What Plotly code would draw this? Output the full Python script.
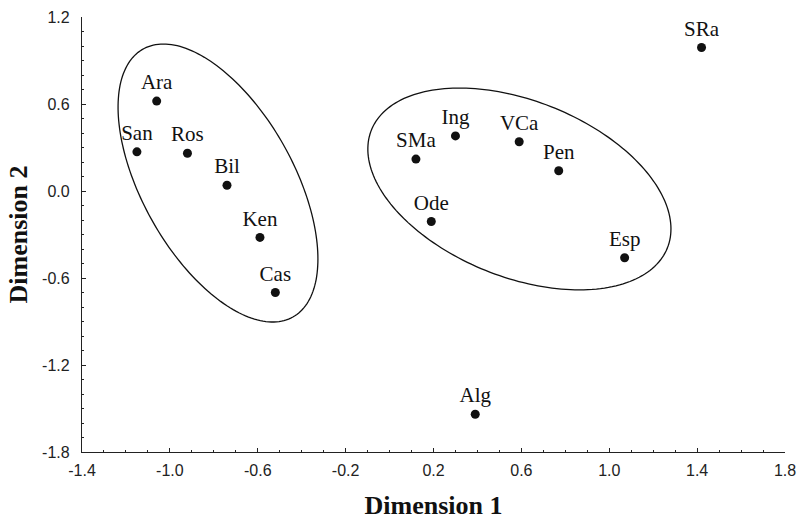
import numpy as np
import plotly.graph_objects as go

# Data
labels = ["Ara", "San", "Ros", "Bil", "Ken", "Cas",
          "SMa", "Ing", "VCa", "Pen", "Ode", "Esp", "SRa", "Alg"]
dim1 = [-1.06, -1.15, -0.92, -0.74, -0.59, -0.52,
        0.12, 0.30, 0.59, 0.77, 0.19, 1.07, 1.42, 0.39]
dim2 = [0.62, 0.27, 0.26, 0.04, -0.32, -0.70,
        0.22, 0.38, 0.34, 0.14, -0.21, -0.46, 0.99, -1.54]

x_ticks = [-1.4, -1.0, -0.6, -0.2, 0.2, 0.6, 1.0, 1.4, 1.8]
y_ticks = [-1.8, -1.2, -0.6, 0.0, 0.6, 1.2]
x_tick_text = ["-1.4", "-1.0", "-0.6", "-0.2", "0.2", "0.6", "1.0", "1.4", "1.8"]
y_tick_text = ["-1.8", "-1.2", "-0.6", "0.0", "0.6", "1.2"]

# Group ellipses: center (data units), semi-axes (screen px), tilt (deg, screen)
ellipse_centers = [(-0.781, 0.055), (0.591, 0.014)]
ellipse_axes = [(153.5, 75.8), (159.3, 88.2)]
ellipse_tilt = [60.8, 21.7]

W, H = 799, 521
ML, MR, MT, MB = 82, 14, 17, 69
xr = [-1.4, 1.8]
yr = [-1.8, 1.2]
sx = (W - ML - MR) / (xr[1] - xr[0])
sy = (H - MT - MB) / (yr[1] - yr[0])

shapes = []
for (cx, cy), (a, b), th in zip(ellipse_centers, ellipse_axes, ellipse_tilt):
    t = np.linspace(0, 2 * np.pi, 200)
    r = np.deg2rad(th)
    dxp = a * np.cos(t) * np.cos(r) - b * np.sin(t) * np.sin(r)
    dyp = a * np.cos(t) * np.sin(r) + b * np.sin(t) * np.cos(r)
    xs = cx + dxp / sx
    ys = cy - dyp / sy
    path = "M " + " L ".join(f"{x:.4f},{y:.4f}" for x, y in zip(xs, ys)) + " Z"
    shapes.append(dict(type="path", path=path, xref="x", yref="y",
                       line=dict(color="#111", width=1.3)))

fig = go.Figure()
fig.add_trace(go.Scatter(
    x=dim1, y=dim2, mode="markers+text", text=labels,
    textposition="top center",
    textfont=dict(family="Liberation Serif", size=21, color="#111"),
    marker=dict(color="#111", size=9),
    showlegend=False, cliponaxis=False, hoverinfo="skip",
))

axis_common = dict(
    showgrid=False, zeroline=False, showline=True, linecolor="#222", linewidth=1.3,
    ticks="inside", ticklen=4, tickcolor="#222", tickwidth=1.2,
    tickfont=dict(family="Liberation Sans", size=16, color="#222"),
    minor=dict(ticks="inside", ticklen=2, tickcolor="#222", dtick=0.1, showgrid=False),
)

fig.update_layout(
    width=W, height=H,
    margin=dict(l=ML, r=MR, t=MT, b=MB, autoexpand=False),
    paper_bgcolor="white", plot_bgcolor="white",
    shapes=shapes,
    xaxis=dict(range=xr, tickvals=x_ticks, ticktext=x_tick_text,
               title=dict(text="Dimension 1", standoff=17,
                          font=dict(family="Liberation Serif", size=26, color="#111", weight="bold")),
               ticklabelstandoff=4, automargin=False,
               minor_tick0=-1.4, **axis_common),
    yaxis=dict(range=yr, tickvals=y_ticks, ticktext=y_tick_text,
               title=dict(text="Dimension 2", standoff=6,
                          font=dict(family="Liberation Serif", size=26, color="#111", weight="bold")),
               ticklabelstandoff=8, automargin=False,
               minor_tick0=-1.8, **axis_common),
)

fig.write_html("out.html", config={"displayModeBar": False},
               post_script="document.body.style.margin='0';document.body.style.padding='0';")
